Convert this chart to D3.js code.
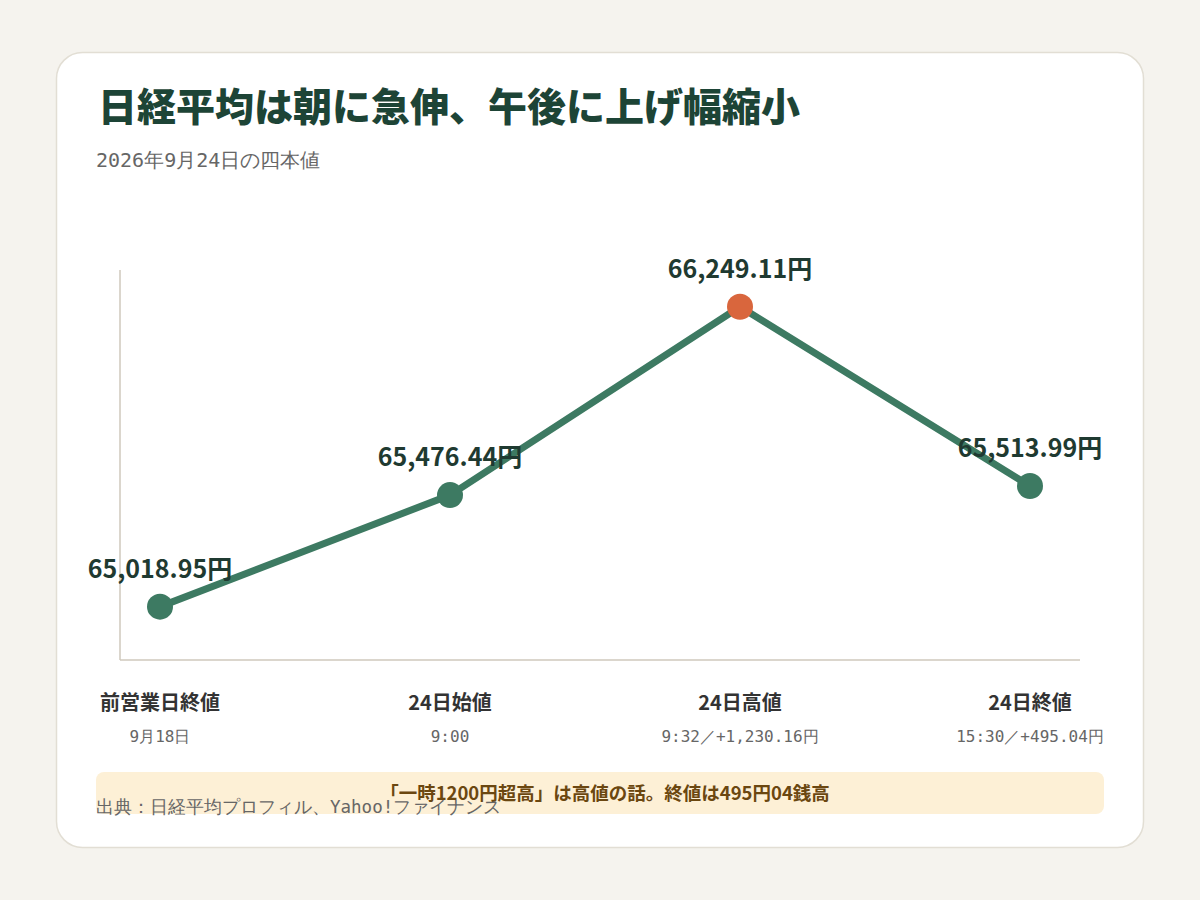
<!DOCTYPE html>
<html>
<head>
<meta charset="utf-8">
<script src="https://cdn.jsdelivr.net/npm/d3@7"></script>
<style>
  body { margin: 0; background: #f5f3ee; }
  svg { display: block; }
</style>
</head>
<body>
<svg id="chart" width="1200" height="900"></svg>
<script>
// 四本値
const categories = ['前営業日終値', '24日始値', '24日高値', '24日終値'];
const subLabels = ['9月18日', '9:00', '9:32／+1,230.16円', '15:30／+495.04円'];
const values = [65018.95, 65476.44, 66249.11, 65513.99];
const valueLabels = ['65,018.95円', '65,476.44円', '66,249.11円', '65,513.99円'];
const highlightIndex = 2;

const titleText = '日経平均は朝に急伸、午後に上げ幅縮小';
const subtitleText = '2026年9月24日の四本値';
const noteText = '「一時1200円超高」は高値の話。終値は495円04銭高';
const sourceText = '出典：日経平均プロフィル、Yahoo!ファイナンス';

const sans = "'Noto Sans CJK JP', 'Noto Sans', sans-serif";
const mono = "monospace";

var svg = d3.select('#chart');

// card
svg.append('rect')
    .attr('x', 56.5).attr('y', 52.5)
    .attr('width', 1087).attr('height', 795)
    .attr('rx', 26)
    .attr('fill', '#fff')
    .attr('stroke', '#e2ded4')
    .attr('stroke-width', 1.5);

svg.append('text')
    .attr('x', 98).attr('y', 121)
    .attr('font-family', sans)
    .attr('font-weight', 900)
    .attr('font-size', 39)
    .attr('fill', '#1d4436')
    .text(titleText);

svg.append('text')
    .attr('x', 96).attr('y', 167)
    .attr('font-family', mono)
    .attr('font-size', 20)
    .attr('fill', '#666')
    .text(subtitleText);

var x = d3.scalePoint()
    .domain(categories)
    .range([160, 1030]);

var y = d3.scaleLinear()
    .domain([64800, 66400])
    .range([660, 270]);

var data = categories.map(function(c, i) {
    return { cat: c, value: values[i], label: valueLabels[i], sub: subLabels[i], i: i };
});

// axes lines
svg.append('line')
    .attr('x1', 120).attr('x2', 120)
    .attr('y1', y.range()[1]).attr('y2', y.range()[0])
    .attr('stroke', '#cfc9bd').attr('stroke-width', 1.5);
svg.append('line')
    .attr('x1', 120).attr('x2', 1080)
    .attr('y1', y.range()[0]).attr('y2', y.range()[0])
    .attr('stroke', '#cfc9bd').attr('stroke-width', 1.5);

var line = d3.line()
    .x(function(d) { return x(d.cat); })
    .y(function(d) { return y(d.value); });

svg.append('path')
    .datum(data)
    .attr('fill', 'none')
    .attr('stroke', '#3d7a62')
    .attr('stroke-width', 7)
    .attr('stroke-linejoin', 'round')
    .attr('d', line);

svg.selectAll('circle.pt')
    .data(data)
    .enter().append('circle')
    .attr('class', 'pt')
    .attr('cx', function(d) { return x(d.cat); })
    .attr('cy', function(d) { return y(d.value); })
    .attr('r', 13)
    .attr('fill', function(d) { return d.i === highlightIndex ? '#d9663d' : '#3d7a62'; });

svg.selectAll('text.val')
    .data(data)
    .enter().append('text')
    .attr('class', 'val')
    .attr('x', function(d) { return x(d.cat); })
    .attr('y', function(d) { return y(d.value) - 29; })
    .attr('text-anchor', 'middle')
    .attr('font-family', sans)
    .attr('font-weight', 700)
    .attr('font-size', 25)
    .attr('fill', '#1f3a31')
    .text(function(d) { return d.label; });

svg.selectAll('text.cat')
    .data(data)
    .enter().append('text')
    .attr('class', 'cat')
    .attr('x', function(d) { return x(d.cat); })
    .attr('y', 710)
    .attr('text-anchor', 'middle')
    .attr('font-family', sans)
    .attr('font-weight', 700)
    .attr('font-size', 20)
    .attr('fill', '#333')
    .text(function(d) { return d.cat; });

svg.selectAll('text.sub')
    .data(data)
    .enter().append('text')
    .attr('class', 'sub')
    .attr('x', function(d) { return x(d.cat); })
    .attr('y', 742)
    .attr('text-anchor', 'middle')
    .attr('font-family', mono)
    .attr('font-size', 16)
    .attr('fill', '#666')
    .text(function(d) { return d.sub; });

// note banner
svg.append('rect')
    .attr('x', 96).attr('y', 772)
    .attr('width', 1008).attr('height', 42)
    .attr('rx', 8)
    .attr('fill', '#fdf0d6');

svg.append('text')
    .attr('x', 605).attr('y', 800)
    .attr('text-anchor', 'middle')
    .attr('font-family', sans)
    .attr('font-weight', 700)
    .attr('font-size', 18.5)
    .attr('fill', '#6b4710')
    .text(noteText);

svg.append('text')
    .attr('x', 96).attr('y', 813)
    .attr('font-family', mono)
    .attr('font-size', 17.5)
    .attr('fill', '#666')
    .text(sourceText);
</script>
</body>
</html>
